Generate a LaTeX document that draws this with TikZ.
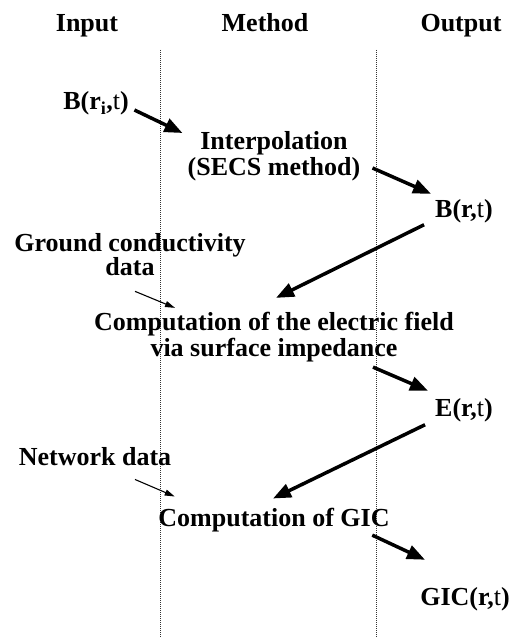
\documentclass[tikz,border=0pt]{standalone}
\usepackage{fontspec}
\setmainfont{Liberation Serif}
\usetikzlibrary{arrows.meta}
\newcommand{\tmd}{\textmd{t}}
\begin{document}
\begin{tikzpicture}[x=1bp, y=1bp,
  texto/.style={font=\bfseries\fontsize{26bp}{26bp}\selectfont, inner sep=0pt, align=center},
  flecha/.style={line width=3.5bp, -{Triangle[length=18bp,width=14bp]}},
  flechita/.style={line width=1.1bp, -{Triangle[length=10bp,width=6bp]}},
  columna/.style={line width=1bp, black!80, dash pattern=on 1bp off 1bp}]

 \useasboundingbox (0,0) rectangle (514,-637);

 % --- ENCABEZADOS ---
 \node[texto, anchor=base] (input) at (87,-32) {Input};
 \node[texto, anchor=base] (method) at (265,-32) {Method};
 \node[texto, anchor=base] (output) at (461,-32) {Output};

 % --- SEPARADORES DE COLUMNAS ---
 \draw[columna] (160,-50) -- (160,-637);
 \draw[columna] (376,-50) -- (376,-637);

 % --- PASO 1: interpolacion ---
 \node[texto, anchor=base] (bri) at (96,-110) {B(r\textsubscript{i},\tmd)};
 \node[texto] (interp) at (274,-156) {Interpolation\\(SECS method)};
 \node[texto, anchor=base] (br) at (464,-217) {B(r,\tmd)};

 \draw[flecha] ([shift={(5.5,0)}]bri.base east) -- ([shift={(-5,-2)}]interp.north west);
 \draw[flecha] ([shift={(12,-12)}]interp.east) -- ([shift={(-4,5)}]br.north west);

 % --- PASO 2: campo electrico ---
 \node[texto] (ground) at (130,-255) {Ground conductivity\\[-2bp]data};
 \node[texto] (efield) at (274,-337) {Computation of the electric field\\via surface impedance};
 \node[texto, anchor=base] (er) at (464,-416) {E(r,\tmd)};

 \draw[flecha] ([shift={(-11,-2)}]br.south west) -- ([shift={(2,14)}]efield.north);
 \draw[flechita] ([shift={(5,-15)}]ground.south) -- ([shift={(-99,4)}]efield.north);
 \draw[flecha] ([shift={(99,-5)}]efield.south) -- ([shift={(-7,7)}]er.north west);

 % --- PASO 3: GIC ---
 \node[texto, anchor=base] (network) at (95,-465) {Network data};
 \node[texto, anchor=base] (gic) at (274,-526) {Computation of GIC};
 \node[texto, anchor=base] (gicr) at (465,-605) {GIC(r,\tmd)};

 \draw[flecha] ([shift={(-10,-3)}]er.south west) -- ([shift={(-1,9)}]gic.north);
 \draw[flechita] ([shift={(40,-14)}]network.south) -- ([shift={(16.5,11)}]gic.north west);
 \draw[flecha] ([shift={(-17.5,-3.4)}]gic.south east) -- ([shift={(-40,27)}]gicr.north);

\end{tikzpicture}
\end{document}
